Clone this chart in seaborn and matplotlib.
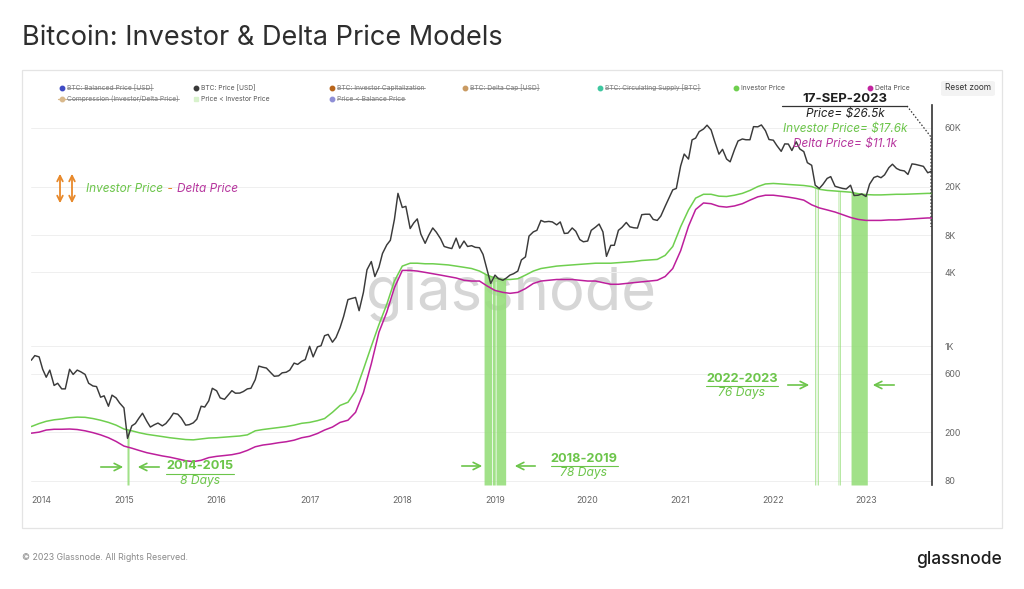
"""
plot.py - Bitcoin: Investor & Delta Price Models (glassnode style chart)

Output : out.png (1024 x 589)
"""

import numpy as np
import pandas as pd
import matplotlib
matplotlib.use("Agg")
import matplotlib.pyplot as plt
import matplotlib.dates as mdates
from matplotlib.lines import Line2D
from matplotlib.patches import Rectangle, FancyBboxPatch, FancyArrowPatch
from matplotlib import font_manager as fm
import seaborn as sns

W, H = 1024, 589
LAST_DATE = "2023-09-17"

# ---------------------------------------------------------------------------
# Data
# ---------------------------------------------------------------------------

# BTC price, 1st and 15th of every month, 2014-01-01 .. 2023-09-15 (+ last day)
btc_price = [
    # 2014
    770, 840, 820, 650, 560, 640, 480, 500, 450, 450, 650, 590,
    640, 620, 590, 500, 475, 470, 385, 395, 325, 400, 380, 345,
    # 2015
    315, 178, 225, 235, 260, 285, 245, 220, 230, 237, 225, 235,
    258, 285, 280, 260, 228, 230, 238, 255, 325, 320, 360, 455,
    # 2016
    434, 380, 370, 400, 435, 415, 416, 428, 450, 455, 535, 690,
    675, 665, 610, 570, 575, 608, 615, 640, 730, 712, 755, 780,
    # 2017
    1000, 820, 990, 1010, 1220, 1250, 1080, 1180, 1420, 1750, 2400, 2450,
    2500, 1950, 2750, 4200, 4900, 3700, 4400, 5700, 6700, 7300, 10800, 17600,
    # 2018
    13500, 13800, 9100, 10100, 10900, 8200, 6900, 8000, 9200, 8500, 7500, 6500,
    6350, 6250, 7600, 6300, 7200, 6500, 6600, 6400, 6350, 5600, 4200, 3250,
    # 2019
    3800, 3550, 3450, 3600, 3800, 3900, 4100, 5050, 5350, 7900, 8550, 8800,
    10600, 10300, 10400, 10300, 9750, 10300, 8300, 8350, 9200, 8650, 7400, 7100,
    # 2020
    7200, 8800, 9350, 9900, 8550, 5400, 6640, 6650, 8800, 9300, 10200, 9400,
    9230, 9180, 11800, 11900, 11900, 10800, 10600, 11500, 13800, 15950, 18800, 19300,
    # 2021
    29400, 36800, 33500, 48000, 49600, 56000, 58800, 63200, 57800, 46700, 36700, 40200,
    33500, 31800, 39900, 47000, 48800, 48100, 48100, 61500, 61300, 63500, 57000, 48300,
    # 2022
    47700, 43100, 38700, 44500, 44400, 39300, 46300, 40500, 38500, 31300, 29800, 20500,
    19300, 20800, 23300, 24100, 20100, 19700, 19300, 19100, 20500, 16900, 17000, 17400,
    # 2023
    16600, 20900, 23700, 24300, 23600, 24900, 28500, 30400, 28100, 27200, 26800, 25100,
    30600, 30300, 29700, 29200, 25900, 26600,
    # 17-Sep-2023
    26500,
]

# Investor Price, 1st of every month, 2014-01 .. 2023-09 (+ last day)
investor_price = [
    222, 235, 245, 252, 256, 262, 265, 264, 258, 250, 240, 228,
    212, 205, 198, 192, 188, 184, 180, 177, 174, 173, 176, 179,
    180, 182, 184, 186, 190, 205, 210, 214, 218, 222, 228, 236,
    240, 248, 258, 290, 330, 350, 430, 650, 1000, 1500, 2200, 3400,
    4500, 4750, 4750, 4700, 4700, 4650, 4600, 4500, 4400, 4300, 4100, 3800,
    3600, 3500, 3500, 3550, 3800, 4100, 4300, 4400, 4500, 4550, 4600, 4650,
    4700, 4750, 4750, 4750, 4800, 4850, 4900, 5000, 5050, 5100, 5500, 6500,
    9400, 12900, 16100, 17300, 17300, 16700, 16600, 17000, 17600, 18600, 20000, 21000,
    21200, 21000, 20800, 20600, 20400, 20000, 19000, 18600, 18400, 18200, 18000, 17500,
    17200, 17100, 17100, 17200, 17300, 17300, 17400, 17500, 17600,
    17600,
]

# Delta Price, 1st of every month, 2014-01 .. 2023-09 (+ last day)
delta_price = [
    196, 200, 208, 211, 211, 212, 210, 205, 198, 190, 180, 168,
    154, 148, 142, 136, 132, 128, 125, 121, 117, 115, 118, 124,
    127, 129, 131, 135, 142, 152, 157, 160, 164, 167, 172, 180,
    185, 195, 208, 220, 240, 250, 290, 420, 720, 1300, 1900, 3000,
    4150, 4150, 4100, 4000, 3900, 3800, 3700, 3600, 3450, 3400, 3400, 3100,
    2850, 2750, 2700, 2750, 2950, 3250, 3400, 3450, 3500, 3500, 3500, 3450,
    3400, 3400, 3300, 3200, 3200, 3250, 3300, 3350, 3400, 3450, 3700, 4300,
    6000, 9500, 13000, 14700, 14500, 13800, 13600, 13900, 14500, 15500, 16500, 17000,
    17000, 16700, 16400, 16000, 15500, 14200, 13400, 12900, 12400, 11800, 11200, 10800,
    10600, 10600, 10600, 10700, 10700, 10800, 10900, 11000, 11100,
    11100,
]

# "Price < Investor Price" periods (start, end)
below_investor = [
    ("2015-01-13", "2015-01-21"),
    ("2018-11-19", "2018-12-19"),
    ("2018-12-22", "2019-01-02"),
    ("2019-01-05", "2019-02-12"),
    ("2022-06-13", "2022-06-17"),
    ("2022-06-23", "2022-06-27"),
    ("2022-09-13", "2022-09-16"),
    ("2022-09-19", "2022-09-22"),
    ("2022-11-03", "2023-01-06"),
]

period_titles = ["2014-2015", "2018-2019", "2022-2023"]
period_days = ["8 Days", "78 Days", "76 Days"]

years = list(range(2014, 2024))
y_ticks = [80, 200, 600, 1000, 4000, 8000, 20000, 60000]
y_tick_labels = ["80", "200", "600", "1K", "4K", "8K", "20K", "60K"]

legend_labels = [
    "BTC: Balanced Price [USD]", "BTC: Price [USD]", "BTC: Investor Capitalization",
    "BTC: Delta Cap [USD]", "BTC: Circulating Supply [BTC]", "Investor Price",
    "Delta Price", "Compression (Investor/Delta Price)", "Price < Investor Price",
    "Price < Balance Price",
]
legend_colors = [
    "#3f4bc4", "#3a3a3a", "#b8651b", "#c99a62", "#3fc7a0", "#6fcf4f",
    "#c2249f", "#d9b98c", "#d8f2cc", "#8f8fd6",
]
legend_struck = [True, False, True, True, True, False, False, True, False, True]

# ---------------------------------------------------------------------------
# Style
# ---------------------------------------------------------------------------

PRICE_C = "#3a3a3a"
INV_C = "#6fcf4f"
DELTA_C = "#bd1f9c"
BAND_C = "#97de7c"
TXT_GREEN = "#6cc54a"
TXT_MAG = "#b7389f"
ORANGE = "#e8892b"


def _pick_italic(candidates):
    for fam in candidates:
        try:
            path = fm.findfont(fm.FontProperties(family=fam, style="italic"),
                               fallback_to_default=False)
        except Exception:
            continue
        if "italic" in path.lower() or "oblique" in path.lower():
            return fam
    return "DejaVu Sans"


BASE = "Inter"
ITAL = _pick_italic(["Inter", "Open Sans", "Lato", "Roboto"])


def fx(x):
    return x / W


def fy(y):
    return 1 - y / H


sns.set_theme(style="white")
plt.rcParams["font.family"] = [BASE, "DejaVu Sans"]

# ---------------------------------------------------------------------------
# Figure
# ---------------------------------------------------------------------------

fig = plt.figure(figsize=(W / 100, H / 100), dpi=100)
fig.patch.set_facecolor("white")

# card border
fig.add_artist(Rectangle((fx(22), fy(528)), fx(980), (528 - 70) / H,
                         transform=fig.transFigure, fill=False,
                         ec="#e4e4e4", lw=0.9))

left_px, right_px, top_px, bot_px = 31.25, 931.8, 105, 485
ax = fig.add_axes([fx(left_px), fy(bot_px), fx(right_px - left_px), (bot_px - top_px) / H])
ax.set_facecolor("none")

price_dates = list(pd.date_range("2014-01-01", "2023-09-15", freq="SMS")) + [pd.Timestamp(LAST_DATE)]
model_dates = list(pd.date_range("2014-01-01", "2023-09-01", freq="MS")) + [pd.Timestamp(LAST_DATE)]
assert len(price_dates) == len(btc_price)
assert len(model_dates) == len(investor_price) == len(delta_price)

Y_LO, Y_HI = 74.2, 92300

ax.set_yscale("log")

# shaded "price < investor price" periods, from the floor up to the investor line
mnum = mdates.date2num(model_dates)
for start, end in below_investor:
    d = pd.to_datetime([start, end])
    top = np.exp(np.interp(mdates.date2num(d), mnum, np.log(investor_price)))
    ax.fill_between(d, Y_LO, top, color=BAND_C, lw=0, alpha=0.9, zorder=1.5)

sns.lineplot(x=model_dates, y=investor_price, ax=ax, color=INV_C, lw=1.1, zorder=3)
sns.lineplot(x=model_dates, y=delta_price, ax=ax, color=DELTA_C, lw=1.1, zorder=3)
sns.lineplot(x=price_dates, y=btc_price, ax=ax, color=PRICE_C, lw=1.05, zorder=4)

ax.set_xlim(pd.Timestamp("2014-01-01"), pd.Timestamp(LAST_DATE))
ax.set_ylim(Y_LO, Y_HI)
ax.set_xlabel("")
ax.set_ylabel("")

# axes styling
for side in ("top", "left", "bottom"):
    ax.spines[side].set_visible(False)
ax.spines["right"].set_color("#333333")
ax.spines["right"].set_linewidth(1.2)

ax.yaxis.tick_right()
ax.set_yticks(y_ticks)
ax.set_yticklabels(y_tick_labels)
ax.yaxis.set_minor_locator(matplotlib.ticker.NullLocator())
ax.set_xticks([pd.Timestamp(f"{y}-01-01") for y in years])
ax.set_xticklabels([str(y) for y in years])
ax.tick_params(axis="x", length=0, pad=8, labelsize=6.3, labelcolor="#666666")
ax.tick_params(axis="y", length=0, pad=9, labelsize=6.3, labelcolor="#666666")
ax.get_xticklabels()[0].set_ha("left")
ax.grid(axis="y", color="#efefef", lw=0.7)
ax.grid(axis="x", visible=False)

# watermark
ax.text(0.533, 0.5, "glassnode", transform=ax.transAxes, ha="center", va="center",
        fontsize=43, color="#cfcfcf", alpha=0.85, zorder=0.5, family=BASE)

# ---------------------------------------------------------------------------
# Title, footer
# ---------------------------------------------------------------------------

fig.text(fx(22), fy(38), "Bitcoin: Investor & Delta Price Models", fontsize=19.5,
         color="#2e2e2e", va="center", ha="left", family=BASE)
fig.text(fx(22), fy(557), "\u00a9 2023 Glassnode. All Rights Reserved.", fontsize=6.3,
         color="#8a8a8a", va="center", ha="left")
fig.text(fx(1002), fy(559), "glassnode", fontsize=12.5, color="#1e1e1e",
         va="center", ha="right", weight="medium")

# ---------------------------------------------------------------------------
# Legend strip
# ---------------------------------------------------------------------------

renderer = fig.canvas.get_renderer()
legend_pos = [(62, 88), (196, 88), (332, 88), (465, 88), (600, 88), (736, 88),
              (870, 88), (62, 99), (196, 99), (332, 99)]
for label, color, struck, (lx, ly) in zip(legend_labels, legend_colors,
                                          legend_struck, legend_pos):
    if label.startswith("Compression"):
        fig.add_artist(Line2D([fx(lx - 4), fx(lx + 4)], [fy(ly), fy(ly)], color=color,
                              lw=0.9, transform=fig.transFigure))
    marker = "s" if label.startswith("Price < Investor") else "o"
    fig.add_artist(Line2D([fx(lx)], [fy(ly)], marker=marker, ms=3.2, color=color,
                          mec=color, lw=0, transform=fig.transFigure))
    t = fig.text(fx(lx + 5), fy(ly), label, fontsize=4.8, va="center", ha="left",
                 color="#7a7a7a" if struck else "#555555")
    if struck:
        bb = t.get_window_extent(renderer)
        ym = (bb.y0 + bb.y1) / 2 / H
        fig.add_artist(Line2D([bb.x0 / W, bb.x1 / W], [ym, ym], color="#8a8a8a",
                              lw=0.6, transform=fig.transFigure))

fig.add_artist(FancyBboxPatch((fx(941), fy(96)), fx(54), 15 / H,
                              boxstyle="round,pad=0,rounding_size=0.003",
                              transform=fig.transFigure, fc="#f3f3f3", ec="none"))
fig.text(fx(968), fy(88), "Reset zoom", fontsize=6, color="#333333",
         ha="center", va="center")

# ---------------------------------------------------------------------------
# Annotations
# ---------------------------------------------------------------------------

# "Investor Price - Delta Price" with double arrows
for ax_x in (60, 72):
    fig.add_artist(FancyArrowPatch((fx(ax_x), fy(171)), (fx(ax_x), fy(206)),
                                   transform=fig.transFigure, arrowstyle="<->",
                                   mutation_scale=10, color=ORANGE, lw=1.3))
x_cur = fx(86)
for piece, col in (("Investor Price", TXT_GREEN), (" - ", ORANGE), ("Delta Price", TXT_MAG)):
    t = fig.text(x_cur, fy(189), piece, fontsize=8.5, style="italic", color=col,
                 va="center", ha="left", family=[ITAL, "DejaVu Sans"])
    x_cur = t.get_window_extent(renderer).x1 / W + 0.001


def period_label(cx, y_title, y_days, title, days, arrow_y, arrows):
    t = fig.text(fx(cx), fy(y_title), title, fontsize=9.2, weight="bold", color=TXT_GREEN,
                 ha="center", va="center")
    bb = t.get_window_extent(renderer)
    uy = fy((y_title + y_days) / 2)
    fig.add_artist(Line2D([bb.x0 / W, bb.x1 / W], [uy, uy], color=TXT_GREEN, lw=0.8,
                          transform=fig.transFigure))
    fig.text(fx(cx), fy(y_days), days, fontsize=8.7, style="italic", color=TXT_GREEN,
             ha="center", va="center", family=[ITAL, "DejaVu Sans"])
    for x0, x1 in arrows:
        fig.add_artist(FancyArrowPatch((fx(x0), fy(arrow_y)), (fx(x1), fy(arrow_y)),
                                       transform=fig.transFigure, arrowstyle="->",
                                       mutation_scale=13, color=TXT_GREEN, lw=1.2))


period_label(200, 466, 481, period_titles[0], period_days[0], 467,
             [(98, 126), (162, 135)])
period_label(584, 459, 473, period_titles[1], period_days[1], 466,
             [(459, 485), (538, 512)])
period_label(742, 379, 393, period_titles[2], period_days[2], 385,
             [(785, 812), (897, 870)])

# latest-values box
fig.text(fx(845), fy(99), "17-SEP-2023", fontsize=9.5, weight="bold", color="#1e1e1e",
         ha="center", va="center")
fig.add_artist(Line2D([fx(782), fx(907)], [fy(106), fy(106)], color="#333333", lw=0.9,
                      transform=fig.transFigure))
fig.add_artist(Line2D([fx(907), fx(931), fx(931)], [fy(106), fy(137), fy(227)],
                      color="#333333", lw=0.9, ls=(0, (1.2, 1.5)),
                      transform=fig.transFigure))
fig.text(fx(845), fy(114), "Price= \\$26.5k", fontsize=8.5, style="italic",
         color="#222222", ha="center", va="center", family=[ITAL, "DejaVu Sans"])
fig.text(fx(845), fy(129), "Investor Price= \\$17.6k", fontsize=8.5, style="italic",
         color=TXT_GREEN, ha="center", va="center", family=[ITAL, "DejaVu Sans"])
fig.text(fx(845), fy(144), "Delta Price= \\$11.1k", fontsize=8.5, style="italic",
         color=TXT_MAG, ha="center", va="center", family=[ITAL, "DejaVu Sans"])

fig.savefig("out.png", dpi=100, facecolor="white")
